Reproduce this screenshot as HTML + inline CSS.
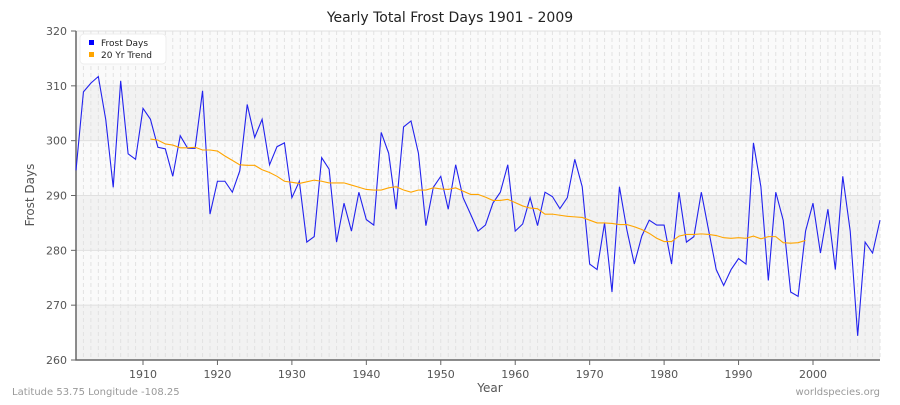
<!DOCTYPE html>
<html><head><meta charset="utf-8"><style>
body{margin:0;background:#fff;}
svg text{font-family:"DejaVu Sans","Liberation Sans",sans-serif;}
</style></head><body>
<svg id="chart" width="900" height="400" xmlns="http://www.w3.org/2000/svg">
<text x="450" y="22" text-anchor="middle" font-size="14" fill="#222">Yearly Total Frost Days 1901 - 2009</text>
<g id="bands"></g><g id="grid"></g><g id="axes"></g><g id="series"></g>
<text x="490" y="392" text-anchor="middle" font-size="12" fill="#555">Year</text>
<text transform="translate(34,195) rotate(-90)" text-anchor="middle" font-size="12" fill="#555">Frost Days</text>
<text x="12" y="395" font-size="10" fill="#999">Latitude 53.75 Longitude -108.25</text>
<text x="880" y="395" text-anchor="end" font-size="10" fill="#999">worldspecies.org</text>
<g>
<rect x="80" y="34" width="86" height="30" rx="4" fill="#fff" stroke="#eee"/>
<rect x="89" y="40" width="5" height="5" fill="#0000ff"/>
<text x="101" y="46" font-size="9" fill="#222">Frost Days</text>
<rect x="89" y="52" width="5" height="5" fill="#ffa500"/>
<text x="101" y="58" font-size="9" fill="#222">20 Yr Trend</text>
</g>
</svg>
<script>
const frostValues=[294.6,308.9,310.5,311.7,303.8,291.5,310.9,297.6,296.6,305.9,303.9,298.8,298.5,293.5,300.9,298.6,298.6,309.1,286.6,292.6,292.6,290.6,294.5,306.6,300.6,303.9,295.6,298.9,299.6,289.6,292.6,281.5,282.5,296.9,294.8,281.5,288.6,283.5,290.6,285.6,284.6,301.5,297.7,287.5,302.5,303.6,297.7,284.5,291.5,293.5,287.5,295.6,289.6,286.6,283.5,284.6,288.6,290.6,295.6,283.5,284.8,289.6,284.5,290.6,289.8,287.6,289.6,296.6,291.6,277.5,276.5,285.0,272.4,291.6,283.7,277.5,282.6,285.5,284.6,284.6,277.5,290.6,281.5,282.5,290.6,283.5,276.5,273.6,276.5,278.5,277.5,299.6,291.6,274.5,290.6,285.5,272.4,271.6,283.5,288.6,279.5,287.5,276.5,293.5,283.5,264.4,281.5,279.5,285.5];
const trendStartYear=1911;
const trendValues=[300.3,300.1,299.4,299.2,298.7,298.7,298.8,298.3,298.3,298.1,297.2,296.4,295.6,295.5,295.5,294.7,294.2,293.5,292.6,292.4,292.2,292.5,292.8,292.6,292.3,292.3,292.3,291.9,291.5,291.1,291.0,291.0,291.4,291.6,291.0,290.6,291.0,291.0,291.4,291.2,291.1,291.4,290.8,290.2,290.2,289.7,289.1,289.1,289.3,288.7,288.1,287.7,287.6,286.6,286.6,286.4,286.2,286.1,286.0,285.5,285.0,285.0,284.9,284.7,284.7,284.3,283.8,283.1,282.2,281.6,281.6,282.6,282.9,282.9,283.0,282.9,282.7,282.3,282.2,282.3,282.2,282.6,282.1,282.5,282.5,281.4,281.3,281.4,281.8];
const yTicks=[260,270,280,290,300,310,320];
const xTicks=[1910,1920,1930,1940,1950,1960,1970,1980,1990,2000];
const startYear=1901,endYear=2009;

const NS="http://www.w3.org/2000/svg";
const L=76,R=880,T=31,B=360,yMin=260,yMax=320;
const X=yr=>L+(yr-startYear)*(R-L)/(endYear-startYear);
const Y=v=>B-(v-yMin)*(B-T)/(yMax-yMin);
function mk(tag,attrs,parent){const e=document.createElementNS(NS,tag);for(const k in attrs)e.setAttribute(k,attrs[k]);document.getElementById(parent).appendChild(e);return e;}

for(let i=0;i<yTicks.length-1;i++){
  const r=mk('rect',{x:L,y:Y(yTicks[i+1]),width:R-L,height:Y(yTicks[i])-Y(yTicks[i+1]),fill:(i%2===0)?'#f2f2f2':'#fafafa'},'bands');
  
  
}
for(let yr=startYear;yr<=endYear;yr++){
  const l=mk('line',{x1:X(yr),x2:X(yr),y1:T,y2:B,stroke:'#e2e2e2','stroke-dasharray':'4,3','stroke-width':1},'grid');
  
  
}
yTicks.forEach(v=>{
  const l=mk('line',{x1:L,x2:R,y1:Y(v),y2:Y(v),stroke:'#e0e0e0','stroke-width':1},'grid');
  
  
  const t=mk('line',{x1:L-5,x2:L,y1:Y(v),y2:Y(v),stroke:'#666'},'axes');
  
  
  const tx=mk('text',{x:L-9,y:Y(v)+4,'text-anchor':'end','font-size':11,fill:'#555'},'axes');
  tx.textContent=v;
  
  
});
xTicks.forEach(v=>{
  const t=mk('line',{x1:X(v),x2:X(v),y1:B,y2:B+5,stroke:'#666'},'axes');
  
  
  const tx=mk('text',{x:X(v),y:B+18,'text-anchor':'middle','font-size':11,fill:'#555'},'axes');
  tx.textContent=v;
  
  
});
const ax=mk('path',{d:`M${L},${T} V${B} H${R}`,fill:'none',stroke:'#666','stroke-width':1.5},'axes');



const fp=frostValues.map((v,i)=>`${X(startYear+i).toFixed(2)},${Y(v).toFixed(2)}`).join(' ');
const fl=mk('polyline',{points:fp,fill:'none',stroke:'#2222ee','stroke-width':1.1},'series');


const tp=trendValues.map((v,i)=>`${X(trendStartYear+i).toFixed(2)},${Y(v).toFixed(2)}`).join(' ');
const tl=mk('polyline',{points:tp,fill:'none',stroke:'#ffa500','stroke-width':1.1},'series');


</script>
</body></html>
